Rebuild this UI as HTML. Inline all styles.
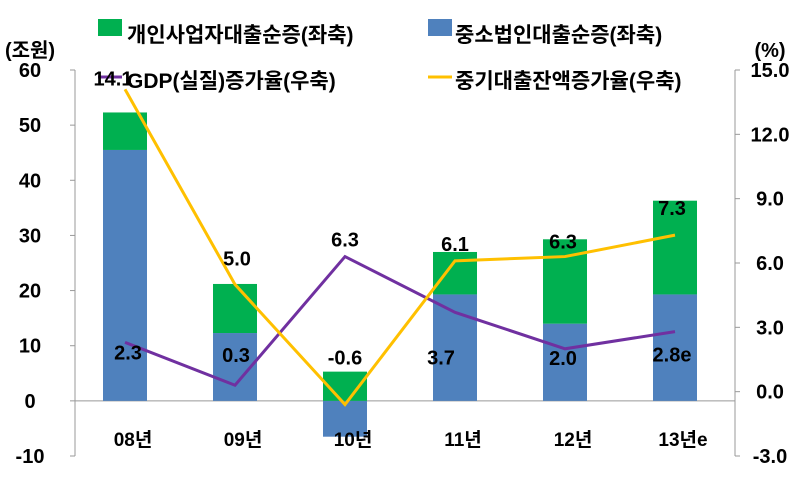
<!DOCTYPE html>
<html><head><meta charset="utf-8"><style>
body{margin:0;background:#fff;}
svg text{font-family:"Liberation Sans","Noto Sans CJK KR",sans-serif;}
</style></head><body>
<svg id="c" width="802" height="476" xmlns="http://www.w3.org/2000/svg">
<g font-size="21" font-weight="bold" fill="#000">
<rect x="98" y="19" width="24" height="17" fill="#00b050"/>
<text x="127" y="42">개인사업자대출순증(좌축)</text>
<rect x="428" y="19" width="24" height="17" fill="#4f81bd"/>
<text x="455" y="42">중소법인대출순증(좌축)</text>
<line x1="98" y1="77" x2="122" y2="77" stroke="#7030a0" stroke-width="3"/>
<text x="127" y="88">GDP(실질)증가율(우축)</text>
<line x1="428" y1="77" x2="452" y2="77" stroke="#ffc000" stroke-width="3"/>
<text x="455" y="88">중기대출잔액증가율(우축)</text>
</g>
<text x="30" y="57" font-size="20" font-weight="bold" text-anchor="middle">(조원)</text>
<text x="770" y="57" font-size="20" font-weight="bold" text-anchor="middle">(%)</text>
</svg>
<script>
const categories=["08년","09년","10년","11년","12년","13년e"];
const corpLoans=[45.5,12.3,-6.5,19.3,14.0,19.3];
const indivLoans=[6.8,8.9,5.3,7.7,15.3,17.0];
const gdpGrowth=[2.3,0.3,6.3,3.7,2.0,2.8];
const gdpLabels=["2.3","0.3","6.3","3.7","2.0","2.8e"];
const loanGrowth=[14.1,5.0,-0.6,6.1,6.3,7.3];
const loanLabels=["14.1","5.0","-0.6","6.1","6.3","7.3"];
const leftTicks=[60,50,40,30,20,10,0,-10];
const rightTicks=["15.0","12.0","9.0","6.0","3.0","0.0","-3.0"];
// label placement offsets (styling, not data)
const loanDy=[-11,-26,-47,-17,-15,-27], loanDx=[-12,2,0,0,-2,-3];
const gdpDy=[10,-30,-17,45,9,23], gdpDx=[3,1,0,-14,-2,-3];
const NS="http://www.w3.org/2000/svg",svg=document.getElementById('c');
const X0=75,X1=735,Y0=70,Y1=456;
const yL=v=>Y0+(60-v)/70*(Y1-Y0);
const yR=v=>Y0+(15-v)/18*(Y1-Y0);
const step=(X1-X0)/categories.length;
const xC=i=>X0+step*(i+0.5)-5;
function mk(t,a,p){const e=document.createElementNS(NS,t);for(const k in a)e.setAttribute(k,a[k]);(p||svg).appendChild(e);return e;}
let e;
e=mk('line',{x1:X0,y1:Y0,x2:X0,y2:Y1,stroke:'#999'});


e=mk('line',{x1:X1,y1:Y0,x2:X1,y2:Y1,stroke:'#999'});


e=mk('line',{x1:X0,y1:yL(0),x2:X1,y2:yL(0),stroke:'#999'});


leftTicks.forEach(v=>{const y=yL(v);
mk('line',{x1:X0-5,y1:y,x2:X0,y2:y,stroke:'#999'});
e=mk('text',{x:30,y:y+7,'font-size':20,'font-weight':'bold','text-anchor':'middle'});e.textContent=v;

});
rightTicks.forEach(s=>{const y=yR(parseFloat(s));
mk('line',{x1:X1,y1:y,x2:X1+5,y2:y,stroke:'#999'});
e=mk('text',{x:770,y:y+7,'font-size':20,'font-weight':'bold','text-anchor':'middle'});e.textContent=s;

});
const bw=44;
categories.forEach((c,i)=>{const x=xC(i)-bw/2;const b=corpLoans[i];
e=mk('rect',{x:x,y:Math.min(yL(0),yL(b)),width:bw,height:Math.abs(yL(b)-yL(0)),fill:'#4f81bd'});


const base=Math.max(b,0);
e=mk('rect',{x:x,y:yL(base+indivLoans[i]),width:bw,height:yL(base)-yL(base+indivLoans[i]),fill:'#00b050'});


e=mk('text',{x:xC(i)+8,y:446,'font-size':19,'font-weight':'bold','text-anchor':'middle'});e.textContent=c;

});
function line(vals,col,name){e=mk('polyline',{points:vals.map((v,i)=>xC(i)+','+yR(v)).join(' '),fill:'none',stroke:col,'stroke-width':3});

}
line(gdpGrowth,'#7030a0','gdp-line');
line(loanGrowth,'#ffc000','loan-growth-line');
gdpGrowth.forEach((v,i)=>{e=mk('text',{x:xC(i)+gdpDx[i],y:yR(v)+gdpDy[i]+7,'font-size':20,'font-weight':'bold','text-anchor':'middle'});e.textContent=gdpLabels[i];

});
loanGrowth.forEach((v,i)=>{e=mk('text',{x:xC(i)+loanDx[i],y:yR(v)+loanDy[i]+7,'font-size':20,'font-weight':'bold','text-anchor':'middle'});e.textContent=loanLabels[i];

});
</script>
</body></html>
